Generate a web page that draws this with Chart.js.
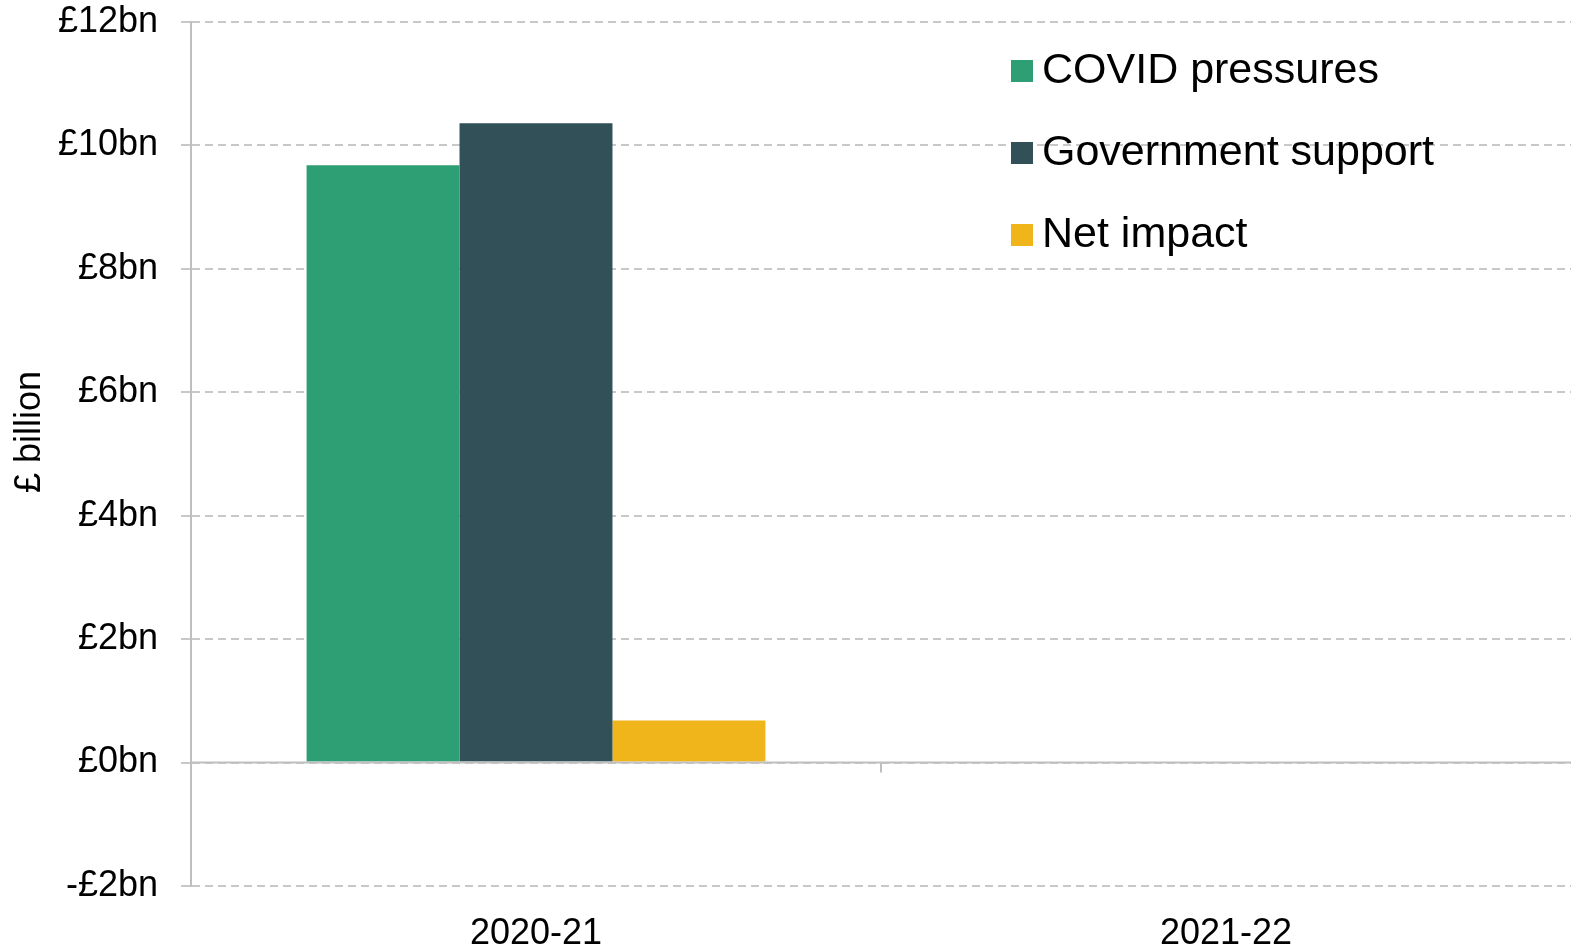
<!DOCTYPE html>
<html>
<head>
<meta charset="utf-8">
<script src="https://cdn.jsdelivr.net/npm/chart.js@4/dist/chart.umd.min.js"></script>
<style>
	html, body { margin: 0; padding: 0; background: #fff; }
	#wrap { width: 1571px; height: 947px; }
</style>
</head>
<body>
<div id="wrap"><canvas id="canvas" width="1571" height="947"></canvas></div>
<script>
// data
var years = ['2020-21', '2021-22'];
var covidPressures = [9.68, null];
var govSupport = [10.36, null];
var netImpact = [0.68, null];
var seriesNames = ['COVID pressures', 'Government support', 'Net impact'];
var seriesColors = ['#2E9E74', '#325057', '#F0B51A'];
var yMin = -2, yMax = 12, yStep = 2;

var FONT = '"Liberation Sans", Arial, sans-serif';
var GRID = '#C8C8C8';
var AXIS = '#BFBFBF';

function fmtBn(v){
	return (v < 0 ? '-£' + Math.abs(v) : '£' + v) + 'bn';
}

// zero line, axis tick on the zero line, y title and the legend
var extras = {
	id: 'extras',
	afterDatasetsDraw: function(chart){
		var ctx = chart.ctx;
		var area = chart.chartArea;
		var x = chart.scales.x, y = chart.scales.y;
		var y0 = y.getPixelForValue(0);
		ctx.save();
		ctx.strokeStyle = AXIS;
		ctx.lineWidth = 2;
		ctx.beginPath();
		ctx.moveTo(area.left, y0);
		ctx.lineTo(area.right, y0);
		var mid = (x.getPixelForTick(0) + x.getPixelForTick(1)) / 2;
		ctx.moveTo(mid, y0);
		ctx.lineTo(mid, y0 + 10);
		ctx.stroke();

		// y axis title, sitting a little above the middle as in the original
		ctx.save();
		ctx.translate(30, 432);
		ctx.rotate(-Math.PI / 2);
		ctx.font = '36px ' + FONT;
		ctx.fillStyle = '#000';
		ctx.textAlign = 'center';
		ctx.textBaseline = 'middle';
		ctx.fillText('£ billion', 0, 0);
		ctx.restore();

		// legend
		var lx = 1011, ly = 71, gap = 82, box = 22;
		ctx.font = '43px ' + FONT;
		ctx.textBaseline = 'middle';
		ctx.textAlign = 'left';
		chart.data.datasets.forEach(function(ds, i){
			ctx.fillStyle = ds.backgroundColor;
			ctx.fillRect(lx, ly + i * gap - box / 2, box, box);
			ctx.fillStyle = '#000';
			ctx.fillText(ds.label, lx + 31, ly + i * gap);
		});
		ctx.restore();
	}
};

var ctx = document.getElementById('canvas').getContext('2d');
window.myBar = new Chart(ctx, {
	type: 'bar',
	data: {
		labels: years,
		datasets: [
			{ label: seriesNames[0], data: covidPressures, backgroundColor: seriesColors[0] },
			{ label: seriesNames[1], data: govSupport, backgroundColor: seriesColors[1] },
			{ label: seriesNames[2], data: netImpact, backgroundColor: seriesColors[2] }
		]
	},
	options: {
		responsive: false,
		animation: false,
		categoryPercentage: 0.665,
		barPercentage: 1,
		layout: { padding: { left: 8, right: 0, top: 22, bottom: 0 } },
		plugins: {
			legend: { display: false },
			tooltip: { enabled: false }
		},
		scales: {
			x: {
				grid: { display: false },
				border: { display: false },
				ticks: {
					color: '#000',
					padding: 18,
					font: { family: FONT, size: 36 }
				},
				afterFit: function(scale){
					scale.height = 61;
					scale.paddingLeft = 0;
					scale.paddingRight = 0;
				}
			},
			y: {
				min: yMin,
				max: yMax,
				ticks: {
					stepSize: yStep,
					color: '#000',
					padding: 23,
					font: { family: FONT, size: 36 },
					callback: function(v){ return fmtBn(v); }
				},
				grid: {
					color: GRID,
					lineWidth: 2,
					tickLength: 10
				},
				border: { display: true, color: AXIS, width: 2, dash: [8, 5] },
				afterFit: function(scale){
					scale.width = 183;
					scale.paddingTop = 0;
					scale.paddingBottom = 0;
				}
			}
		}
	},
	plugins: [extras]
});
</script>
</body>
</html>
